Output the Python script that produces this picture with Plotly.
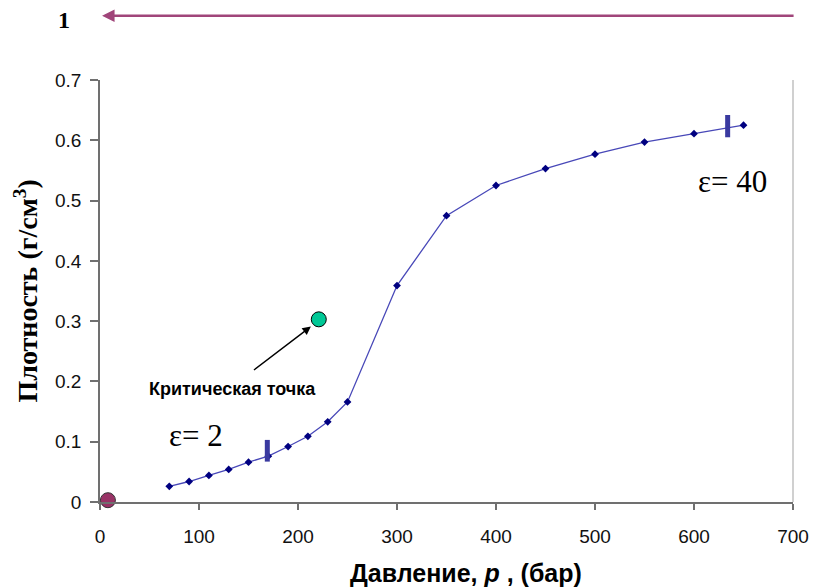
import plotly.graph_objects as go

# ---- data ----
pressure = [70, 90, 110, 130, 150, 170, 190, 210, 230, 250, 300, 350, 400, 450, 500, 550, 600, 650]
density = [0.026, 0.034, 0.044, 0.054, 0.066, 0.076, 0.092, 0.109, 0.133, 0.166,
           0.359, 0.475, 0.525, 0.553, 0.577, 0.597, 0.611, 0.625]

critical_p = [221]
critical_rho = [0.303]

start_p = [8]
start_rho = [0.003]

mark_low_p = [169, 169]
mark_low_rho = [0.067, 0.103]
mark_high_p = [634, 634]
mark_high_rho = [0.605, 0.642]

x_ticks = [0, 100, 200, 300, 400, 500, 600, 700]
y_ticks = [0, 0.1, 0.2, 0.3, 0.4, 0.5, 0.6, 0.7]
y_tick_text = ["0", "0.1", "0.2", "0.3", "0.4", "0.5", "0.6", "0.7"]

SERIF = "Liberation Serif, Times New Roman, serif"
SANS = "Liberation Sans, Arial, sans-serif"

fig = go.Figure()

fig.add_trace(go.Scatter(
    x=pressure, y=density, mode="lines+markers",
    line=dict(color="#4848b8", width=1.3),
    marker=dict(symbol="diamond", size=6, color="#000080"),
    hoverinfo="skip", showlegend=False))

for px, py in ((mark_low_p, mark_low_rho), (mark_high_p, mark_high_rho)):
    fig.add_trace(go.Scatter(
        x=px, y=py, mode="lines",
        line=dict(color="#3a3aa0", width=5),
        hoverinfo="skip", showlegend=False))

fig.add_trace(go.Scatter(
    x=critical_p, y=critical_rho, mode="markers",
    marker=dict(size=15, color="#00c896", line=dict(color="#000000", width=1)),
    hoverinfo="skip", showlegend=False))

fig.add_trace(go.Scatter(
    x=start_p, y=start_rho, mode="markers", cliponaxis=False,
    marker=dict(size=15, color="#993366", line=dict(color="#333333", width=1)),
    hoverinfo="skip", showlegend=False))

annotations = [
    # critical point label + arrow
    dict(x=134, y=0.187, xref="x", yref="y", text="<b>Критическая точка</b>",
         xanchor="center", yanchor="middle", showarrow=False,
         font=dict(family=SANS, size=18, color="#000000")),
    dict(x=213, y=0.291, xref="x", yref="y", ax=154, ay=0.217, axref="x", ayref="y",
         text="", showarrow=True, arrowhead=2, arrowsize=1.2, arrowwidth=1.4,
         arrowcolor="#000000"),
    dict(x=97, y=0.111, xref="x", yref="y", text="ε= 2", showarrow=False,
         xanchor="center", yanchor="middle",
         font=dict(family=SERIF, size=31, color="#000000")),
    dict(x=639, y=0.532, xref="x", yref="y", text="ε= 40", showarrow=False,
         xanchor="center", yanchor="middle",
         font=dict(family=SERIF, size=31, color="#000000")),
    # top arrow and "1"
    dict(x=0.003, y=1.152, xref="paper", yref="paper", ax=693, ay=0,
         text="", showarrow=True, arrowhead=2, arrowsize=1, arrowwidth=2.5,
         arrowcolor="#a0457a"),
    dict(x=-0.0526, y=1.142, xref="paper", yref="paper", text="<b>1</b>",
         xanchor="center", yanchor="middle", showarrow=False,
         font=dict(family=SERIF, size=24, color="#000000")),
    # axis titles
    dict(x=-0.1074, y=0.5, xref="paper", yref="paper",
         xanchor="center", yanchor="middle",
         text="<b>Плотность (г/см<sup>3</sup>)</b>", textangle=-90, showarrow=False,
         font=dict(family=SERIF, size=28, color="#000000")),
    dict(x=0.528, y=-0.168, xref="paper", yref="paper",
         xanchor="center", yanchor="middle",
         text="<b>Давление, <i>p</i> , (бар)</b>", showarrow=False,
         font=dict(family=SANS, size=25, color="#000000")),
]

axis_common = dict(showgrid=False, zeroline=False, linecolor="#707070", linewidth=1.5,
                   tickcolor="#707070", tickwidth=1.5, automargin=False)

fig.update_layout(
    width=815, height=588,
    margin=dict(l=100, r=22, t=80, b=86, autoexpand=False),
    paper_bgcolor="white", plot_bgcolor="white",
    annotations=annotations,
    shapes=[dict(type="line", xref="paper", yref="paper", x0=1, x1=1, y0=0, y1=1,
                 line=dict(color="#c0c0c0", width=1.5))],
    xaxis=dict(range=[0, 700], tickvals=x_ticks, ticktext=[str(v) for v in x_ticks],
               showline=True, ticks="outside", ticklen=6, ticklabelstandoff=10,
               tickfont=dict(family=SANS, size=19, color="#111111"), **axis_common),
    yaxis=dict(range=[0, 0.7], tickvals=y_ticks, ticktext=y_tick_text,
               showline=True, ticks="outside", ticklen=8, ticklabelstandoff=5,
               tickfont=dict(family=SANS, size=19, color="#111111"), **axis_common),
    xaxis2=dict(range=[0, 700], tickvals=x_ticks, overlaying="x", anchor="y", side="bottom",
                showline=False, ticks="inside", ticklen=6, showticklabels=False, **axis_common),
    yaxis2=dict(range=[0, 0.7], tickvals=y_ticks, overlaying="y", anchor="x", side="left",
                showline=False, ticks="inside", ticklen=4, showticklabels=False, **axis_common),
)

fig.write_html("out.html", config={"displayModeBar": False},
               post_script="document.body.style.margin='0';")
